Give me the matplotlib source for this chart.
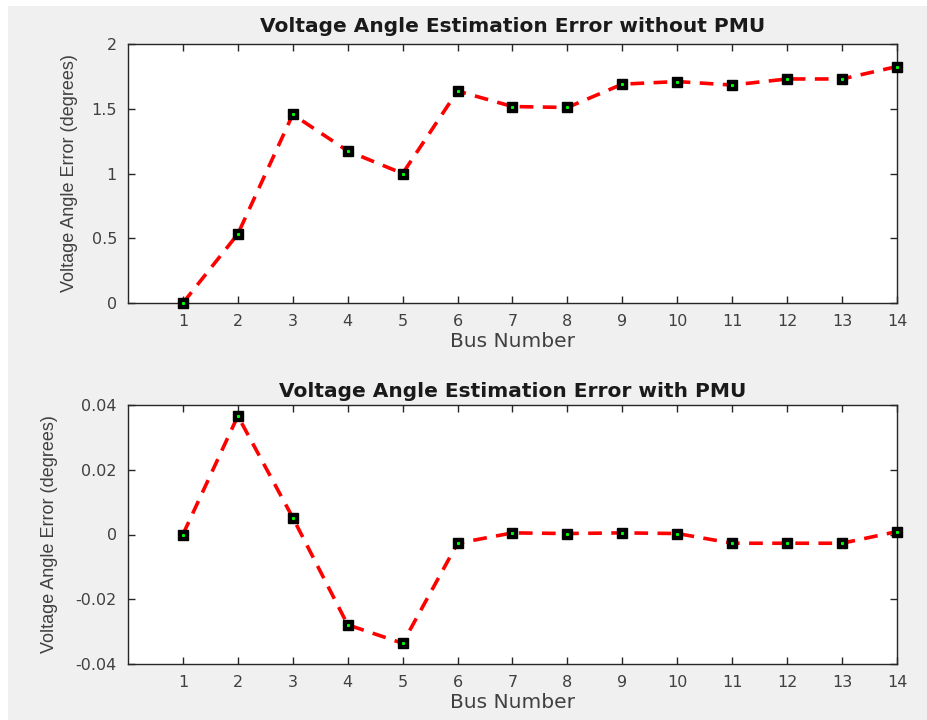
import matplotlib
matplotlib.use('Agg')
import matplotlib.pyplot as plt
from matplotlib.patches import Rectangle

plt.rcParams['font.family'] = ['DejaVu Sans']
plt.rcParams['axes.unicode_minus'] = False

# datos
buses = list(range(1, 15))
error_sin_pmu = [0.0, 0.533, 1.456, 1.174, 1.0, 1.637, 1.517, 1.51,
                 1.69, 1.71, 1.683, 1.73, 1.73, 1.826]
error_con_pmu = [0.0, 0.0366, 0.0052, -0.0279, -0.0336, -0.0027, 0.0005, 0.0003,
                 0.0005, 0.0003, -0.0027, -0.0027, -0.0027, 0.0009]

titulos = ['Voltage Angle Estimation Error without PMU',
           'Voltage Angle Estimation Error with PMU']
yticks_sup = [0, 0.5, 1, 1.5, 2]
ylabels_sup = ['0', '0.5', '1', '1.5', '2']
yticks_inf = [-0.04, -0.02, 0, 0.02, 0.04]
ylabels_inf = ['-0.04', '-0.02', '0', '0.02', '0.04']

fig = plt.figure(figsize=(9.28, 7.2), dpi=100, facecolor='#f0f0f0')
W, H = 928.0, 720.0

# franjas blancas del recorte original
fig.patches.append(Rectangle((0, 1 - 6 / H), 1, 6 / H, transform=fig.transFigure,
                             facecolor='white', edgecolor='none', zorder=-1))
fig.patches.append(Rectangle((0, 0), 8 / W, 1, transform=fig.transFigure,
                             facecolor='white', edgecolor='none', zorder=-1))

def ejes(top, bottom):
    return fig.add_axes([128 / W, 1 - bottom / H, (897 - 128) / W, (bottom - top) / H])

ax1 = ejes(44, 303)
ax2 = ejes(405, 664)

grafs = [(ax1, error_sin_pmu, (0, 2), yticks_sup, ylabels_sup, 78, 9),
         (ax2, error_con_pmu, (-0.04, 0.04), yticks_inf, ylabels_inf, 58, 6)]

for i, (ax, datos, lim, yt, yl, xlab, tpad) in enumerate(grafs):
    ax.plot(buses, datos, color='red', linestyle=(0, (3.8, 2.6)), linewidth=2.6, zorder=2)
    ax.plot(buses, datos, linestyle='none', marker='s', markersize=7.5,
            markerfacecolor='black', markeredgecolor='black', clip_on=False, zorder=3)
    ax.plot(buses, datos, linestyle='none', marker='s', markersize=1.2,
            markerfacecolor='#00ff00', markeredgecolor='#00ff00', clip_on=False, zorder=4)
    ax.set_xlim(0, 14)
    ax.set_ylim(*lim)
    ax.set_xticks(buses)
    ax.set_xticklabels([str(b) for b in buses])
    ax.set_yticks(yt)
    ax.set_yticklabels(yl)
    ax.tick_params(direction='in', length=5, width=1, colors='#262626',
                   labelcolor='#404040', labelsize=11.5, top=True, right=True, pad=8)
    for s in ax.spines.values():
        s.set_color('#262626')
        s.set_linewidth(1)
    ax.set_facecolor('white')
    ax.set_title(titulos[i], fontsize=14.5, fontweight='bold', color='#1a1a1a', pad=tpad)
    ax.set_xlabel('Bus Number', fontsize=14.5, color='#404040', labelpad=2)
    ax.set_ylabel('Voltage Angle Error (degrees)', fontsize=13, color='#404040',
                  family=['Liberation Sans', 'DejaVu Sans'])
    ax.yaxis.set_label_coords((xlab - 128) / (897 - 128), 0.5)

plt.savefig('out.png', dpi=100, facecolor=fig.get_facecolor())
